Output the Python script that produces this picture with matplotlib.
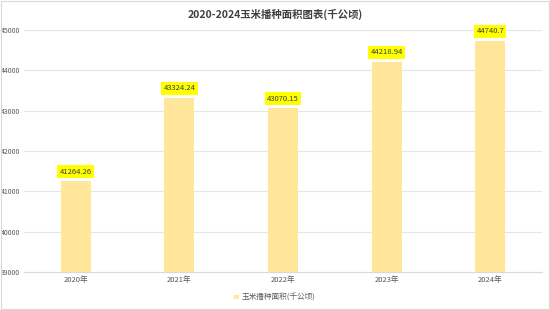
import matplotlib.pyplot as plt
from matplotlib.patches import Rectangle

plt.rcParams['font.family'] = ['Noto Sans CJK SC', 'DejaVu Sans']

years = ["2020年", "2021年", "2022年", "2023年", "2024年"]
area = [41264.26, 43324.24, 43070.15, 44218.94, 44740.7]
yticks = [39000, 40000, 41000, 42000, 43000, 44000, 45000]
series_name = "玉米播种面积(千公顷)"


def main():
    fig = plt.figure(figsize=(5.5, 3.1), dpi=100)
    ax = fig.add_axes([0.0436, 0.1226, 0.942, 0.780])

    x = range(len(years))
    bars = ax.bar(x, area, width=0.29, color="#FFE699", label=series_name, zorder=2)

    for b, v in zip(bars, area):
        ax.text(b.get_x() + b.get_width() / 2, v + 130, str(v),
                ha="center", va="bottom", fontsize=5.5, color="#404040",
                bbox=dict(boxstyle="square,pad=0.3", fc="#FFFF00", ec="none"),
                zorder=3)

    ax.set_ylim(39000, 45000)
    ax.set_xlim(-0.5, len(years) - 0.5)
    ax.set_yticks(yticks)
    ax.set_yticklabels([str(t) for t in yticks], fontsize=5, color="#595959")
    ax.set_xticks(list(x))
    ax.set_xticklabels(years, fontsize=5.5, color="#595959")
    ax.tick_params(length=0, pad=3)
    ax.grid(axis="y", color="#E6E6E6", linewidth=0.8, zorder=0)
    for s in ["top", "right", "left"]:
        ax.spines[s].set_visible(False)
    ax.spines["bottom"].set_color("#D9D9D9")

    fig.text(0.5, 0.955, "2020-2024玉米播种面积图表(千公顷)", ha="center", va="center",
             fontsize=7.5, fontweight="bold", color="#404040")

    fig.legend(handles=[bars], labels=[series_name], loc="center",
               bbox_to_anchor=(0.5, 0.04), frameon=False, fontsize=5.5,
               handlelength=0.6, handleheight=0.6, handletextpad=0.4,
               labelcolor="#595959")

    fig.patches.append(Rectangle((0.002, 0.003), 0.996, 0.994, transform=fig.transFigure,
                                 fill=False, ec="#D9D9D9", lw=0.8))

    plt.savefig("out.png", dpi=100)


if __name__ == "__main__":
    main()
